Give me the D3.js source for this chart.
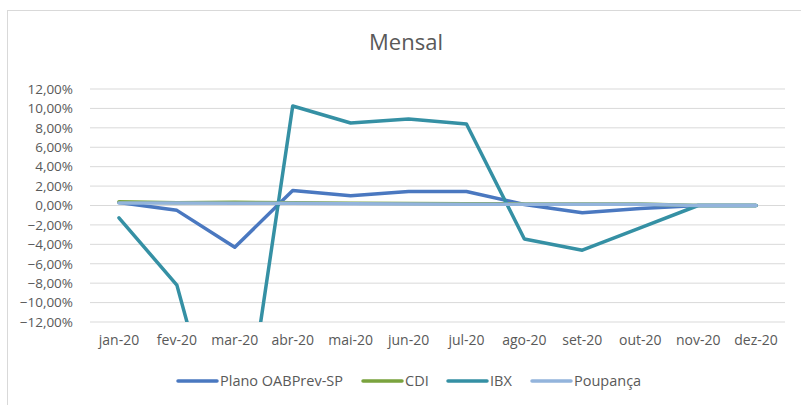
<!DOCTYPE html>
<html>
<head>
<meta charset="utf-8">
<script src="https://cdn.jsdelivr.net/npm/d3@7"></script>
<style>
  body { margin: 0; background: #fff; }
  text { font-family: "Open Sans", "Noto Sans", sans-serif; fill: #595959; }
</style>
</head>
<body>
<script>
const months = ['jan-20', 'fev-20', 'mar-20', 'abr-20', 'mai-20', 'jun-20', 'jul-20', 'ago-20', 'set-20', 'out-20', 'nov-20', 'dez-20']
const plano = [0.30, -0.50, -4.30, 1.55, 1.00, 1.45, 1.45, 0.10, -0.75, -0.30, 0, 0]
const cdi = [0.38, 0.29, 0.34, 0.28, 0.24, 0.21, 0.19, 0.16, 0.16, 0.16, 0, 0]
const ibx = [-1.27, -8.20, -30.0, 10.25, 8.50, 8.90, 8.40, -3.45, -4.60, -2.30, 0, 0]
const poupanca = [0.26, 0.26, 0.24, 0.22, 0.19, 0.16, 0.13, 0.12, 0.12, 0.12, 0, 0]
const yTicks = [-12, -10, -8, -6, -4, -2, 0, 2, 4, 6, 8, 10, 12]

const seriesNames = ['Plano OABPrev-SP', 'CDI', 'IBX', 'Poupança']
const seriesValues = [plano, cdi, ibx, poupanca]
const colors = ['#4a78c0', '#7aa33e', '#3590a4', '#93b4dc']

var svg = d3.select('body')
  .append('svg')
  .attr('width', 801)
  .attr('height', 405)

const margin = { top: 89, right: 16, bottom: 83, left: 90 }
const width = 801 - margin.left - margin.right
const height = 405 - margin.top - margin.bottom

// chart border
svg.append('rect')
  .attr('x', 7.5).attr('y', 10.5)
  .attr('width', 820).attr('height', 420)
  .attr('fill', 'none')
  .attr('stroke', '#d9d9d9')

svg.append('text')
  .attr('x', 406)
  .attr('y', 50)
  .attr('text-anchor', 'middle')
  .style('font-size', '22px')
  .text('Mensal')

const xScale = d3.scaleBand().domain(months).range([0, width])
const yScale = d3.scaleLinear().domain([-12, 12]).range([height, 0])
const fmt = v => d3.format('.2f')(v).replace('.', ',') + '%'

const g = svg.append('g')
  .attr('transform', 'translate(' + margin.left + ',' + margin.top + ')')

// gridlines
g.append('g')
  .selectAll('line')
  .data(yTicks)
  .enter()
  .append('line')
  .attr('x1', 0)
  .attr('x2', width)
  .attr('y1', d => yScale(d))
  .attr('y2', d => yScale(d))
  .attr('stroke', '#d9d9d9')
  .attr('stroke-width', 1)

// Y-Axis
g.append('g')
  .call(d3.axisLeft(yScale).tickValues(yTicks).tickFormat(fmt).tickSize(0).tickPadding(17))
  .call(a => a.select('.domain').remove())
  .selectAll('text')
  .style('font-size', '13.5px')

// X-Axis
g.append('g')
  .attr('transform', 'translate(0,' + height + ')')
  .call(d3.axisBottom(xScale).tickSize(0).tickPadding(13))
  .call(a => a.select('.domain').remove())
  .selectAll('text')
  .style('font-size', '14px')

g.append('clipPath')
  .attr('id', 'plotclip')
  .append('rect')
  .attr('x', 0).attr('y', 0)
  .attr('width', width).attr('height', height)

const line = d3.line()
  .x((d, i) => xScale(months[i]) + xScale.bandwidth() / 2)
  .y(d => yScale(d))

g.append('g')
  .attr('clip-path', 'url(#plotclip)')
  .selectAll('path')
  .data(seriesValues)
  .enter()
  .append('path')
  .attr('d', d => line(d))
  .attr('fill', 'none')
  .attr('stroke', (d, i) => colors[i])
  .attr('stroke-width', 3.5)
  .attr('stroke-linejoin', 'round')
  .attr('stroke-linecap', 'round')

// Legends
const legendX = [178, 363, 448, 532]
const legend = svg.selectAll('.legend')
  .data(seriesNames)
  .enter()
  .append('g')
  .attr('transform', (d, i) => 'translate(' + legendX[i] + ',381)')

legend.append('line')
  .attr('x1', 0).attr('x2', 39)
  .attr('y1', 0).attr('y2', 0)
  .attr('stroke', (d, i) => colors[i])
  .attr('stroke-width', 3.5)
  .attr('stroke-linecap', 'round')

legend.append('text')
  .attr('x', 42)
  .attr('y', 5)
  .style('font-size', '14.5px')
  .text(d => d)
</script>
</body>
</html>
